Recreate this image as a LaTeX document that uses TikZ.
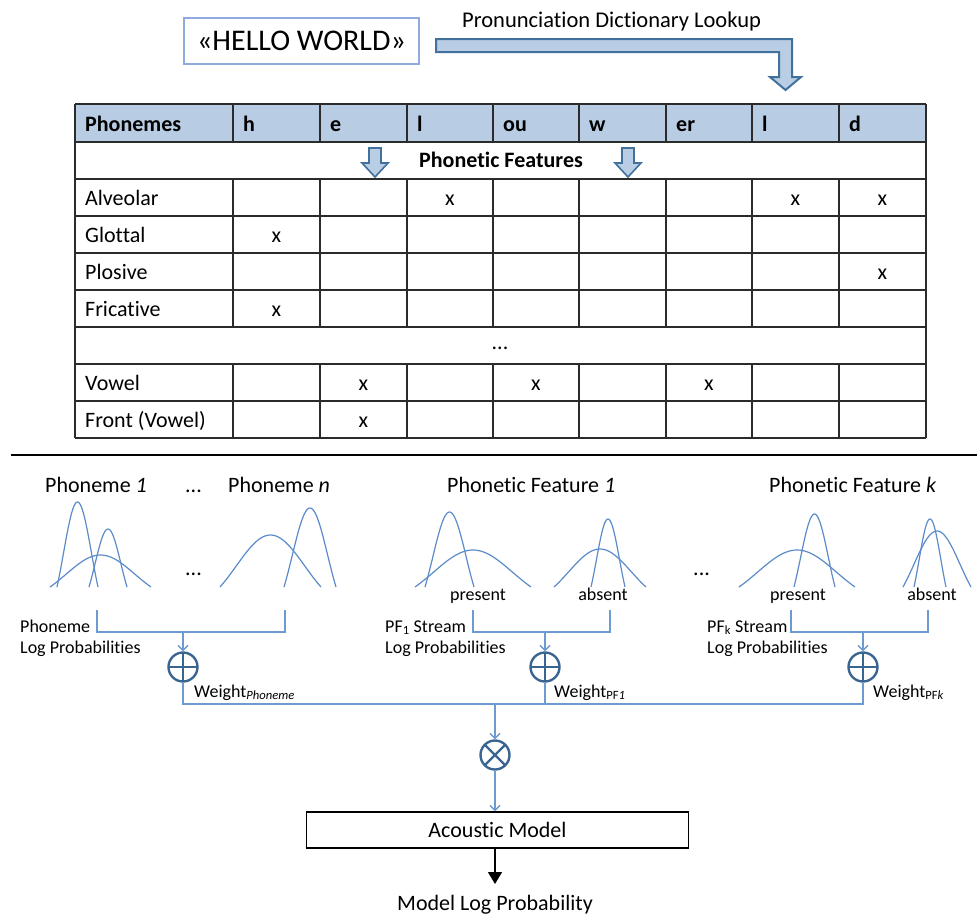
\documentclass[tikz,border=0pt]{standalone}
\usepackage{fontspec}
\setmainfont[Ligatures=NoCommon]{Carlito}
\usetikzlibrary{arrows.meta}
\definecolor{hdr}{HTML}{B8CCE4}
\definecolor{barfill}{HTML}{B9CDE5}
\definecolor{barline}{HTML}{41719C}
\definecolor{curve}{HTML}{5B8BC9}
\definecolor{conn}{HTML}{6C9BD2}
\definecolor{opc}{HTML}{3A6591}
\definecolor{gridc}{HTML}{2B2B2B}
\definecolor{boxline}{HTML}{8FAADC}
\newcommand\fsz[1]{\fontsize{#1}{#1}\selectfont}
\newcommand\gss[3]{\draw[cv] plot[domain=-1:1, samples=41, smooth] ({#1+#2*\x},{587-(587-#3)*(exp(-1.1*\x*\x)-0.332871)/0.667129});}
\tikzset{
  txt/.style={inner sep=0pt, anchor=base},
  txtw/.style={inner sep=0pt, anchor=base west},
  gridline/.style={draw=gridc, line width=1.3pt},
  conline/.style={draw=conn, line width=1.4pt},
  cv/.style={draw=curve, line width=1.2pt},
  vtip/.style={-{Straight Barb[length=5pt,width=10pt]}},
  opnode/.style={circle, draw=opc, line width=2.4pt, minimum size=29pt, inner sep=0pt},
  plusop/.style={opnode, path picture={\draw[opc, line width=2.4pt] (path picture bounding box.north) -- (path picture bounding box.south) (path picture bounding box.west) -- (path picture bounding box.east);}},
  timesop/.style={opnode, path picture={\draw[opc, line width=2.4pt] (path picture bounding box.north west) -- (path picture bounding box.south east) (path picture bounding box.south west) -- (path picture bounding box.north east);}},
  blockarrow/.style={fill=barfill, draw=barline, line width=2pt, line join=miter},
  hd/.style={txtw, font=\fsz{22}\bfseries},
  rl/.style={txtw, font=\fsz{22}},
  xm/.style={txt, font=\fsz{22}},
  big/.style={font=\fsz{22}},
  sm/.style={font=\fsz{18}},
}
\begin{document}
\begin{tikzpicture}[x=1pt,y=-1pt]
\useasboundingbox (0,0) rectangle (977,914);
% ---------- top ----------
\node[draw=boxline, line width=1.2pt, minimum width=235pt, minimum height=46pt, inner sep=0pt, font=\fsz{30}] (hw) at (301.5,41) {«HELLO WORLD»};
\node[txtw, font=\fsz{22.5}] (pdl) at (462,27) {Pronunciation Dictionary Lookup};
\draw[blockarrow] (436,39) -- (792,39) -- (792,77) -- (801,77) -- (785.5,90) -- (770,77) -- (779,77) -- (779,52) -- (436,52) -- cycle;
% ---------- table ----------
\fill[hdr] (75,104) rectangle (926,142);
\foreach \y in {104,142,179,216,253,290,327,364,401,438}
  \draw[gridline] (75,\y) -- (926,\y);
\draw[gridline] (75,104) -- (75,438) (926,104) -- (926,438);
\foreach \x in {233,320,407,493,579,666,752,839}
  \draw[gridline] (\x,104) -- (\x,142) (\x,179) -- (\x,327) (\x,364) -- (\x,438);
\node[hd] (hph) at (85,131) {Phonemes};
\foreach \x/\t/\n in {233/h/h1,320/e/h2,407/l/h3,493/ou/h4,579/w/h5,666/er/h6,752/l/h7,839/d/h8}
  \node[hd] (\n) at (\x+10,131) {\t};
\node[txt, font=\fsz{22}\bfseries] (pf) at (501,167) {Phonetic Features};
\draw[blockarrow, line width=1.6pt] (369,148) -- (381,148) -- (381,163) -- (388,163) -- (375,177) -- (362,163) -- (369,163) -- cycle;
\draw[blockarrow, line width=1.6pt] (622,148) -- (634,148) -- (634,163) -- (641,163) -- (628,177) -- (615,163) -- (622,163) -- cycle;
\node[rl] (r1) at (85,205) {Alveolar};
\node[rl] (r2) at (85,242) {Glottal};
\node[rl] (r3) at (85,279) {Plosive};
\node[rl] (r4) at (85,316) {Fricative};
\node[txt, font=\fsz{22}] (rd) at (500,349) {...};
\node[rl] (r5) at (85,390) {Vowel};
\node[rl] (r6) at (85,427) {Front (Vowel)};
\foreach \x/\y/\n in {450/205/x1,795.5/205/x2,882.5/205/x3,276.5/242/x4,882.5/279/x5,276.5/316/x6,363.5/390/x7,536/390/x8,709/390/x9,363.5/427/x10}
  \node[xm] (\n) at (\x,\y) {x};
% ---------- separator ----------
\draw[black, line width=2pt] (11,455) -- (977,455);
% ---------- lower ----------
\node[txtw, big] (t1) at (45,492) {Phoneme \textit{1}};
\node[txtw, big] (t2) at (185,492) {...};
\node[txtw, big] (t3) at (228,492) {Phoneme \textit{n}};
\node[txtw, big] (t4) at (447,492) {Phonetic Feature \textit{1}};
\node[txtw, big] (t5) at (769,492) {Phonetic Feature \textit{k}};
\node[txtw, big] (d1) at (185,575) {...};
\node[txtw, big] (d2) at (693,575) {...};
% curves
\gss{77.5}{20.5}{502}
\gss{108}{19}{529}
\gss{100.5}{50.5}{555}
\gss{270.5}{50.5}{535}
\gss{310}{26}{508}
\gss{449.5}{24.5}{512}
\gss{473}{58}{550}
\gss{608}{17}{519}
\gss{600}{46}{549}
\gss{797}{58}{550}
\gss{814.5}{20.5}{514}
\gss{930}{16}{519}
\gss{937}{34}{531}
\node[txt, sm] (pr1) at (478,600) {present};
\node[txt, sm] (ab1) at (603,600) {absent};
\node[txt, sm] (pr2) at (798,600) {present};
\node[txt, sm] (ab2) at (932,600) {absent};
% operators
\node[plusop] (opP) at (183,667) {};
\node[plusop] (op1) at (545,667) {};
\node[plusop] (opk) at (863,667) {};
\node[timesop] (mul) at (495,755) {};
% brackets
\coordinate (aL) at (97,610); \coordinate (aR) at (285,610); \coordinate (aJ) at (183,632);
\coordinate (bL) at (473,610); \coordinate (bR) at (610,610); \coordinate (bJ) at (545,632);
\coordinate (cL) at (791,610); \coordinate (cR) at (928,610); \coordinate (cJ) at (863,632);
\draw[conline] (aL) |- (aJ) -| (aR);
\draw[conline] (bL) |- (bJ) -| (bR);
\draw[conline] (cL) |- (cJ) -| (cR);
\draw[conline, vtip] (aJ) -- (opP);
\draw[conline, vtip] (bJ) -- (op1);
\draw[conline, vtip] (cJ) -- (opk);
% labels
\node[txtw, sm] (l1) at (20,632) {Phoneme};
\node[txtw, sm] (l2) at (20,653) {Log Probabilities};
\node[txtw, sm] (l3) at (385,632) {PF\textsubscript{1} Stream};
\node[txtw, sm] (l4) at (385,653) {Log Probabilities};
\node[txtw, sm] (l5) at (707,632) {PF\textsubscript{k} Stream};
\node[txtw, sm] (l6) at (707,653) {Log Probabilities};
\node[txtw, sm] (w1) at (194,697) {Weight\textsubscript{\textit{Phoneme}}};
\node[txtw, sm] (w2) at (554,697) {Weight\textsubscript{PF\textit{1}}};
\node[txtw, sm] (w3) at (873,697) {Weight\textsubscript{PF\textit{k}}};
% bus
\coordinate (bus) at (0,704);
\draw[conline] (opP) -- (opP |- bus) -- (opk |- bus) -- (opk);
\draw[conline] (op1) -- (op1 |- bus);
\draw[conline, vtip] (mul |- bus) -- (mul);
% acoustic model
\node[draw=black, line width=1.2pt, minimum width=382pt, minimum height=36pt, inner sep=0pt, font=\fsz{22}] (am) at (497.5,830) {Acoustic Model};
\draw[conline, vtip] (mul) -- (mul |- am.north);
\coordinate (tip) at (495,884);
\draw[black, line width=1.3pt, -{Triangle[length=12pt,width=14pt]}] (am.south -| mul) -- (tip);
\node[txt, font=\fsz{22}] (mlp) at (495,910) {Model Log Probability};
\end{tikzpicture}
\end{document}
